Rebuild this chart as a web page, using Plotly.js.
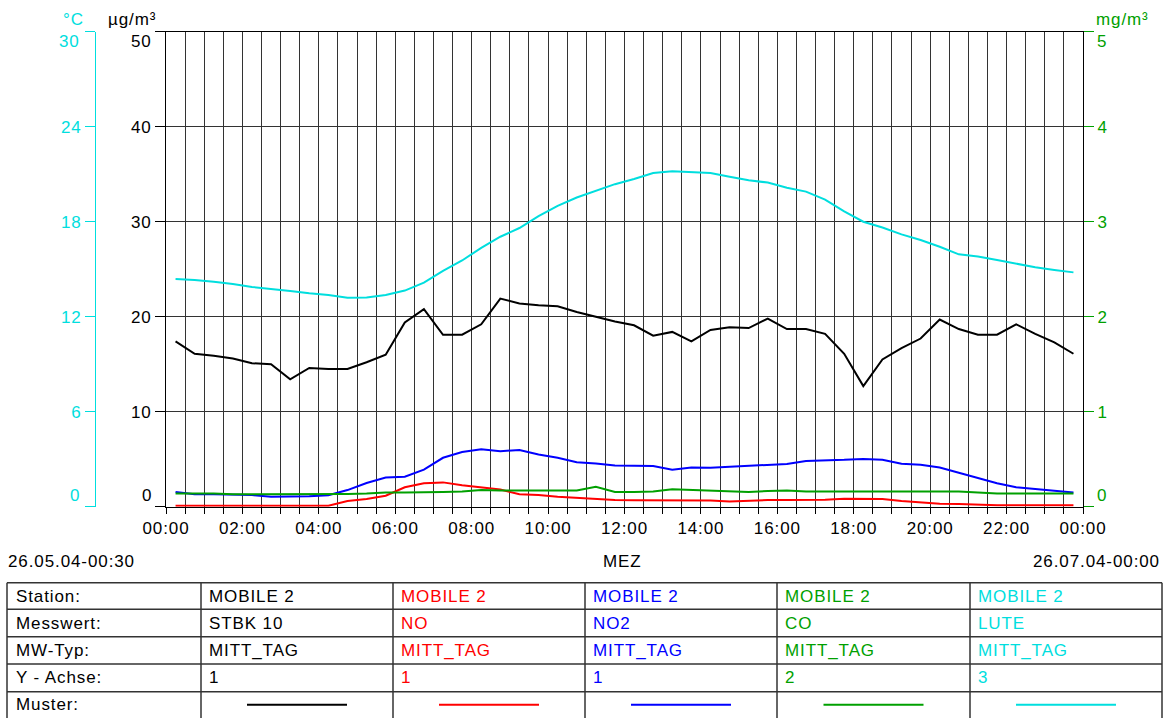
<!DOCTYPE html>
<html>
<head>
<meta charset="utf-8">
<script src="https://cdn.plot.ly/plotly-3.0.1.min.js"></script>
<style>
html,body{margin:0;padding:0;background:#fff;}
#chart{width:1163px;height:718px;}
svg text{letter-spacing:0.9px;}
</style>
</head>
<body>
<div id="chart"></div>
<script>
// ---- data (half-hourly mean daily profile, plotted at interval mid-points) ----
const timeLabels = ['00:15','00:45','01:15','01:45','02:15','02:45','03:15','03:45',
  '04:15','04:45','05:15','05:45','06:15','06:45','07:15','07:45',
  '08:15','08:45','09:15','09:45','10:15','10:45','11:15','11:45',
  '12:15','12:45','13:15','13:45','14:15','14:45','15:15','15:45',
  '16:15','16:45','17:15','17:45','18:15','18:45','19:15','19:45',
  '20:15','20:45','21:15','21:45','22:15','22:45','23:15','23:45'];

const stbk10 = [17.4,16.1,15.9,15.6,15.1,15.0,13.4,14.6,14.5,14.5,15.2,16.0,
  19.4,20.8,18.1,18.1,19.2,21.9,21.4,21.2,21.1,20.5,20.0,19.5,
  19.1,18.0,18.4,17.4,18.6,18.9,18.8,19.8,18.7,18.7,18.2,16.1,
  12.7,15.5,16.7,17.7,19.7,18.7,18.1,18.1,19.2,18.2,17.3,16.1];

const no = [0.1,0.1,0.1,0.1,0.1,0.1,0.1,0.1,0.1,0.6,0.8,1.15,
  2.05,2.47,2.56,2.25,2.03,1.8,1.32,1.23,1.05,0.93,0.86,0.7,
  0.68,0.68,0.68,0.66,0.65,0.55,0.65,0.7,0.7,0.7,0.72,0.84,
  0.84,0.8,0.6,0.46,0.32,0.28,0.18,0.14,0.14,0.14,0.14,0.14];

const no2 = [1.55,1.3,1.3,1.3,1.23,1.05,1.05,1.1,1.2,1.75,2.5,3.07,
  3.16,3.9,5.15,5.75,6.05,5.85,5.97,5.5,5.15,4.68,4.55,4.33,
  4.32,4.28,3.9,4.12,4.1,4.2,4.35,4.38,4.5,4.82,4.84,4.93,
  5.03,4.95,4.52,4.42,4.12,3.55,3.03,2.46,2.04,1.85,1.68,1.49];

const co = [0.14,0.14,0.14,0.13,0.13,0.13,0.13,0.13,0.13,0.135,0.14,0.15,
  0.15,0.15,0.155,0.16,0.175,0.17,0.17,0.17,0.17,0.17,0.21,0.155,
  0.155,0.16,0.183,0.175,0.17,0.16,0.155,0.165,0.17,0.16,0.16,0.16,
  0.16,0.16,0.16,0.16,0.16,0.16,0.15,0.14,0.14,0.14,0.14,0.14];

const lute = [14.38,14.32,14.2,14.07,13.88,13.73,13.62,13.48,13.37,13.2,13.22,13.37,
  13.65,14.15,14.9,15.55,16.35,17.05,17.6,18.35,19.0,19.53,19.97,20.37,
  20.7,21.07,21.18,21.14,21.08,20.84,20.62,20.47,20.15,19.9,19.4,18.65,
  18.0,17.63,17.2,16.84,16.42,15.94,15.8,15.58,15.33,15.12,14.95,14.8];

const y1Ticks = [0,10,20,30,40,50];
const y2Ticks = [0,1,2,3,4,5];
const y3Ticks = [0,6,12,18,24,30];

// table contents
const rowLabels = ['Station:','Messwert:','MW-Typ:','Y - Achse:','Muster:'];
const stations  = ['MOBILE 2','MOBILE 2','MOBILE 2','MOBILE 2','MOBILE 2'];
const messwerte = ['STBK 10','NO','NO2','CO','LUTE'];
const mwTypen   = ['MITT_TAG','MITT_TAG','MITT_TAG','MITT_TAG','MITT_TAG'];
const yAchsen   = ['1','1','1','2','3'];
const seriesColors = ['#000000','#ff0000','#0000ff','#00a000','#00dede'];

const startLabel = '26.05.04-00:30';
const endLabel = '26.07.04-00:00';
const tzLabel = 'MEZ';

// ---- layout helpers ----
const W = 1163, H = 718;
const fx = p => p / W;
const fy = p => 1 - p / H;
const FONT = 'Liberation Sans, Arial, sans-serif';
const FS = 17;
const GRID = '#333333';

const x = timeLabels.map(t => '2004-05-26 ' + t);
const seriesY = [stbk10, no, no2, co, lute];
const seriesAxis = ['y', 'y', 'y', 'y2', 'y3'];

const order = [3, 1, 2, 0, 4];
const traces = order.map(i => ({
  type: 'scatter', mode: 'lines', x: x, y: seriesY[i], yaxis: seriesAxis[i],
  line: {color: seriesColors[i], width: 2}, hoverinfo: 'skip', showlegend: false
}));

const ann = [];
function txt(text, px, py, anchor, color, size) {
  ann.push({text: text, x: fx(px), y: fy(py), xref: 'paper', yref: 'paper',
    xanchor: anchor, yanchor: 'middle', showarrow: false, borderpad: 0,
    font: {family: FONT, size: size || FS, color: color}});
}
// units
txt('°C', 73, 19, 'center', seriesColors[4]);
txt('µg/m³', 132, 19, 'center', '#000');
txt('mg/m³', 1122, 19, 'center', seriesColors[3]);
// end labels of each axis are nudged inside (bottom up, top down)
const last = a => a[a.length - 1];
txt(String(y1Ticks[0]), 153, 495, 'right', '#000');
txt(String(y3Ticks[0]), 81, 495, 'right', seriesColors[4]);
txt(String(y2Ticks[0]), 1096, 495, 'left', seriesColors[3]);
txt(String(last(y1Ticks)), 153, 41, 'right', '#000');
txt(String(last(y3Ticks)), 81, 41, 'right', seriesColors[4]);
txt(String(last(y2Ticks)), 1096, 41, 'left', seriesColors[3]);
// footer
txt(startLabel, 7, 561, 'left', '#000');
txt(tzLabel, 622, 561, 'center', '#000');
txt(endLabel, 1161, 561, 'right', '#000');

// table
const colEdges = [7, 201, 393, 585, 777, 970, 1162];
const rowEdges = [582.7, 609.3, 636.7, 664, 691.7, 718];
const shapes = [];
const TL = '#333333';
rowEdges.slice(0, 5).forEach(ry => shapes.push({type: 'line', xref: 'paper', yref: 'paper',
  x0: fx(colEdges[0]), x1: fx(colEdges[6]), y0: fy(ry), y1: fy(ry), line: {color: TL, width: 1.5}}));
colEdges.forEach(cx => shapes.push({type: 'line', xref: 'paper', yref: 'paper',
  x0: fx(cx), x1: fx(cx), y0: fy(rowEdges[0]), y1: fy(rowEdges[5]), line: {color: TL, width: 1.5}}));
const rowMid = r => (rowEdges[r] + rowEdges[r + 1]) / 2;
rowLabels.forEach((l, r) => txt(l, colEdges[0] + 8, rowMid(r), 'left', '#000'));
const colVals = [stations, messwerte, mwTypen, yAchsen];
for (let c = 0; c < 5; c++) {
  colVals.forEach((vals, r) => txt(vals[c], colEdges[c + 1] + 7, rowMid(r), 'left', seriesColors[c]));
  const mid = (colEdges[c + 1] + colEdges[c + 2]) / 2;
  shapes.push({type: 'line', xref: 'paper', yref: 'paper', x0: fx(mid - 50), x1: fx(mid + 50),
    y0: fy(rowMid(4)), y1: fy(rowMid(4)), line: {color: seriesColors[c], width: 2}});
}

const hideEnds = a => a.map((v, i) => (i === 0 || i === a.length - 1) ? '' : String(v));
const tickF = c => ({family: FONT, size: FS, color: c});
const layout = {
  width: W, height: H, autosize: false,
  margin: {l: 0, r: 0, t: 0, b: 0, pad: 0},
  paper_bgcolor: '#fff', plot_bgcolor: '#fff',
  showlegend: false, hovermode: false,
  xaxis: {
    domain: [fx(166), fx(1083)], type: 'date',
    range: ['2004-05-26 00:00', '2004-05-27 00:00'],
    tick0: '2004-05-26 00:00', dtick: 7200000, tickformat: '%H:%M',
    ticks: 'outside', ticklen: 6, tickcolor: '#000', tickfont: tickF('#000'),
    showgrid: true, gridcolor: GRID, gridwidth: 1,
    minor: {dtick: 1800000, showgrid: true, gridcolor: GRID, gridwidth: 1,
      ticks: 'outside', ticklen: 6, tickcolor: '#000'},
    showline: true, linecolor: '#000', linewidth: 1, mirror: true,
    zeroline: false, fixedrange: true
  },
  yaxis: {
    domain: [fy(506.7), fy(31.7)], range: [0, 50],
    tickvals: y1Ticks, ticktext: hideEnds(y1Ticks),
    ticks: 'outside', ticklen: 10, tickcolor: '#000', tickfont: tickF('#000'),
    showgrid: true, gridcolor: GRID, gridwidth: 1,
    showline: true, linecolor: '#000', linewidth: 1, mirror: true,
    zeroline: false, fixedrange: true
  },
  yaxis2: {
    overlaying: 'y', side: 'right', anchor: 'x', range: [0, 5],
    tickvals: y2Ticks, ticktext: hideEnds(y2Ticks),
    ticks: 'outside', ticklen: 10, tickcolor: seriesColors[3], tickfont: tickF(seriesColors[3]),
    showgrid: false, showline: false, zeroline: false, fixedrange: true
  },
  yaxis3: {
    overlaying: 'y', side: 'left', anchor: 'free', position: fx(95), range: [0, 30],
    tickvals: y3Ticks, ticktext: hideEnds(y3Ticks),
    ticks: 'outside', ticklen: 10, tickcolor: seriesColors[4], tickfont: tickF(seriesColors[4]),
    showgrid: false, showline: true, linecolor: seriesColors[4], linewidth: 1,
    zeroline: false, fixedrange: true
  },
  annotations: ann,
  shapes: shapes
};

Plotly.newPlot('chart', traces, layout, {displayModeBar: false, staticPlot: true});
</script>
</body>
</html>
